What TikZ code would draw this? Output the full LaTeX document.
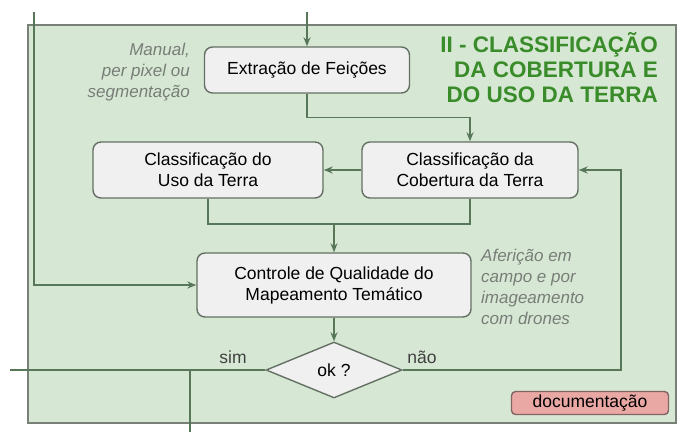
\documentclass[tikz,border=0pt]{standalone}
\usepackage{fontspec}
\setmainfont{Liberation Sans}
\usepackage{xcolor}
\usepackage{tikz}
\usetikzlibrary{shapes.geometric, arrows.meta, positioning}

\definecolor{panelgreen}{RGB}{214,232,212}
\definecolor{panelborder}{RGB}{120,128,120}
\definecolor{boxfill}{RGB}{240,240,240}
\definecolor{boxborder}{RGB}{100,112,100}
\definecolor{flowline}{RGB}{88,118,88}
\definecolor{titlegreen}{RGB}{58,140,42}
\definecolor{notegray}{RGB}{120,125,120}
\definecolor{docfill}{RGB}{234,168,164}
\definecolor{docborder}{RGB}{130,100,100}

\begin{document}
\begin{tikzpicture}[
    x=1pt, y=-1pt,
    box/.style={rectangle, rounded corners=8pt, draw=boxborder, fill=boxfill, line width=1.4pt, inner sep=0pt, align=center, font=\fontsize{17.5}{21}\selectfont},
    decision/.style={diamond, draw=boxborder, fill=boxfill, line width=1.4pt, inner sep=0pt, minimum width=136pt, minimum height=56pt, font=\fontsize{17.5}{21}\selectfont},
    note/.style={font=\fontsize{17}{21}\selectfont\itshape, text=notegray, inner sep=0pt},
    label/.style={font=\fontsize{17.5}{21}\selectfont, text=black!75, inner sep=0pt},
    line/.style={draw=flowline, line width=1.5pt},
    arrow/.style={line, -{Stealth[length=9pt, width=7pt]}}
]

\useasboundingbox (0,0) rectangle (679,432);
\fill[white] (0,0) rectangle (679,432);
\draw[fill=panelgreen, draw=panelborder, line width=1.5pt] (28,25) rectangle (676,423);

\node[box, minimum width=205pt, minimum height=46pt] (extracao) at (307,70) {Extração de Feições};
\node[box, minimum width=230pt, minimum height=56pt] (uso) at (208,170) {Classificação do\\Uso da Terra};
\node[box, minimum width=216pt, minimum height=56pt] (cobertura) at (470,170) {Classificação da\\Cobertura da Terra};
\node[box, minimum width=274pt, minimum height=64pt] (controle) at (334,285) {Controle de Qualidade do\\Mapeamento Temático};
\node[decision] (ok) at (334,370) {ok ?};
\node[box, rounded corners=4pt, fill=docfill, draw=docborder, minimum width=157pt, minimum height=23pt] (doc) at (590,403) {documentação};

\node[anchor=north east, align=right, inner sep=0pt, text=titlegreen, font=\fontsize{22.5}{25}\selectfont\bfseries] (titulo) at (658,32) {II - CLASSIFICAÇÃO\\DA COBERTURA E\\DO USO DA TERRA};
\node[note, anchor=east, align=right] (manual) at (190,72) {Manual,\\per pixel ou\\segmentação};
\node[note, anchor=west, align=left] (afericao) at (481,287) {Aferição em\\campo e por\\imageamento\\com drones};
\node[label] (sim) at (233,357) {sim};
\node[label] (nao) at (422,357) {não};

\coordinate (topin) at (307,12);
\coordinate (leftin) at (34,12);
\coordinate (merge) at (334,224);
\coordinate (simout) at (10,370);
\coordinate (simbottom) at (190,432);
\coordinate (naoturn) at (621,370);

\draw[arrow] (topin) -- (extracao.north);
\draw[arrow] (leftin) |- (controle.west);
\draw[arrow] (extracao.south) -- ++(0,24) -| (cobertura.north);
\draw[arrow] (cobertura.west) -- (uso.east);
\draw[line] (uso.south) |- (merge);
\draw[line] (cobertura.south) |- (merge);
\draw[arrow] (merge) -- (controle.north);
\draw[arrow] (controle.south) -- (ok.north);
\draw[line] (ok.west) -- (simout);
\draw[line] (ok.west -| simbottom) -- (simbottom);
\draw[arrow] (ok.east) -- (naoturn) |- (cobertura.east);

\end{tikzpicture}
\end{document}
